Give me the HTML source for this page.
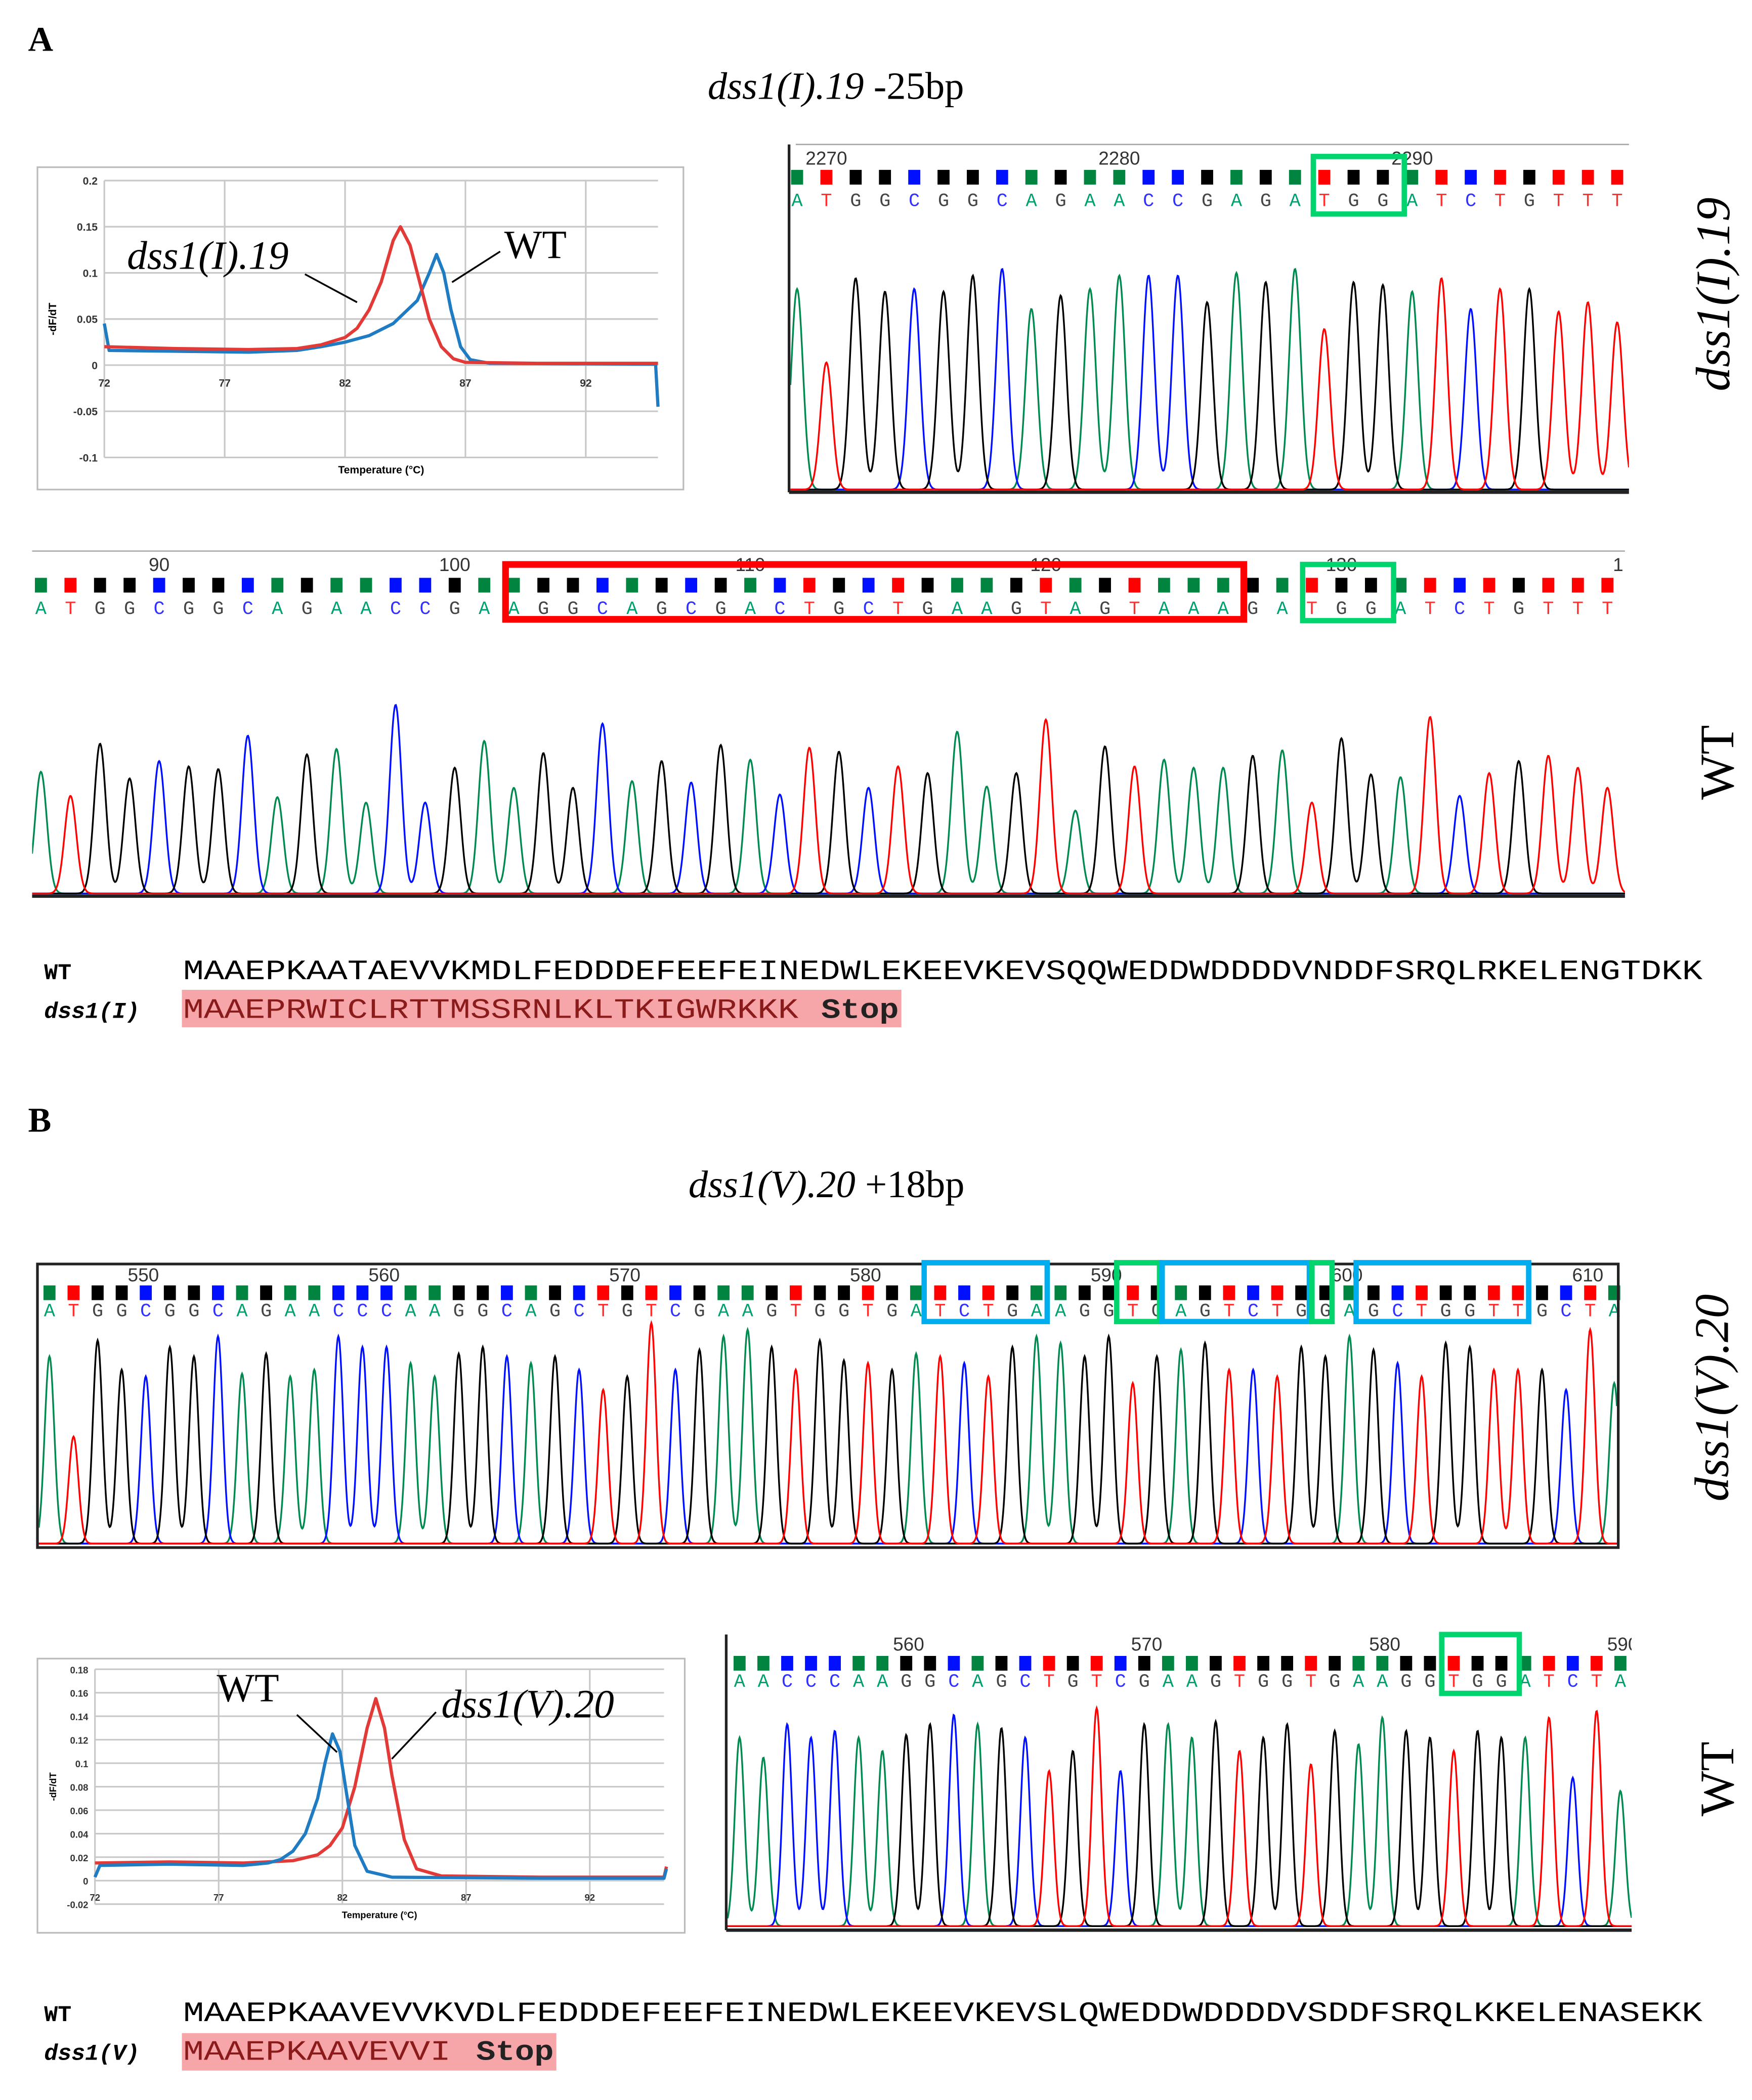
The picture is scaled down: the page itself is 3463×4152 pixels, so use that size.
<!DOCTYPE html>
<html><head><meta charset="utf-8">
<style>
html,body{margin:0;padding:0;background:#fff;}
svg{display:block;}
.serif{font-family:"Liberation Serif",serif;}
.mono{font-family:"Liberation Mono",monospace;}
.sans{font-family:"Liberation Sans",sans-serif;}
</style></head>
<body>
<svg id="fig" xmlns="http://www.w3.org/2000/svg" width="3463" height="4152" viewBox="0 0 1310 1570" preserveAspectRatio="none">
<rect x="0" y="0" width="1310" height="1570" fill="#fff"/>
<!-- Panel A -->
<text x="21" y="38" class="serif" font-size="26" font-weight="bold">A</text>
<text x="625" y="74" class="serif" font-size="29" text-anchor="middle"><tspan font-style="italic">dss1(I).19</tspan> -25bp</text>
<g id="meltA"></g>
<g id="chrom1"></g>
<g id="chrom2"></g>
<text transform="translate(1293,220) rotate(-90)" class="serif" font-size="36" font-style="italic" text-anchor="middle">dss1(I).19</text>
<text transform="translate(1296,570) rotate(-90)" class="serif" font-size="36" text-anchor="middle">WT</text>

<rect x="136" y="740" width="538" height="28" fill="#f6a5a9"/>
<text x="33" y="732" class="mono" font-size="17" font-weight="bold">WT</text>
<text x="137" y="732" class="mono" font-size="21" textLength="1136" lengthAdjust="spacingAndGlyphs">MAAEPKAATAEVVKMDLFEDDDEFEEFEINEDWLEKEEVKEVSQQWEDDWDDDDVNDDFSRQLRKELENGTDKK</text>
<text x="33" y="761" class="mono" font-size="17" font-weight="bold" font-style="italic">dss1(I)</text>
<text x="137" y="761" class="mono" font-size="21" fill="#8b1a1a"><tspan textLength="460" lengthAdjust="spacingAndGlyphs">MAAEPRWICLRTTMSSRNLKLTKIGWRKKK</tspan><tspan x="614" font-weight="bold" fill="#222" textLength="58" lengthAdjust="spacingAndGlyphs">Stop</tspan></text>

<!-- Panel B -->
<text x="21" y="846" class="serif" font-size="26" font-weight="bold">B</text>
<text x="618" y="895" class="serif" font-size="29" text-anchor="middle"><tspan font-style="italic">dss1(V).20</tspan> +18bp</text>
<g id="chrom3"></g>
<g id="meltB"></g>
<g id="chrom4"></g>
<text transform="translate(1292,1045) rotate(-90)" class="serif" font-size="36" font-style="italic" text-anchor="middle">dss1(V).20</text>
<text transform="translate(1296,1330) rotate(-90)" class="serif" font-size="36" text-anchor="middle">WT</text>

<rect x="136" y="1520" width="280" height="28" fill="#f6a5a9"/>
<text x="33" y="1511" class="mono" font-size="17" font-weight="bold">WT</text>
<text x="137" y="1511" class="mono" font-size="21" textLength="1136" lengthAdjust="spacingAndGlyphs">MAAEPKAAVEVVKVDLFEDDDEFEEFEINEDWLEKEEVKEVSLQWEDDWDDDDVSDDFSRQLKKELENASEKK</text>
<text x="33" y="1540" class="mono" font-size="17" font-weight="bold" font-style="italic">dss1(V)</text>
<text x="137" y="1540" class="mono" font-size="21" fill="#8b1a1a"><tspan textLength="200" lengthAdjust="spacingAndGlyphs">MAAEPKAAVEVVI</tspan><tspan x="356" font-weight="bold" fill="#222" textLength="58" lengthAdjust="spacingAndGlyphs">Stop</tspan></text>
</svg>
<script>
// ---------- DATA ----------
const c1Bases = "ATGGCGGCAGAACCGAGATGGATCTGTTT".split("");
const c1Amp = [150,95,158,148,150,148,160,165,135,145,150,160,160,160,140,162,155,165,120,155,153,148,158,135,150,150,133,140,125];
const c1Ticks = [2270,2280,2290];

const c2Bases = "ATGGCGGCAGAACCGAAGGCAGCGACTGCTGAAGTAGTAAAGATGGATCTGTTT".split("");
const c2Amp = [91,73,112,86,99,95,93,118,72,104,108,68,141,68,94,114,79,105,79,127,84,99,83,111,100,74,109,106,79,95,90,121,80,90,130,62,110,95,100,94,94,103,107,68,116,89,87,132,73,90,99,103,94,79];
const c2Ticks = [90,100,110,120,130];

const c3Bases = "ATGGCGGCAGAACCCAAGGCAGCTGTCGAAGTGGTGATCTGAAGGTGAGTCTGGAGCTGGTTGCTA".split("");
const c3Amp = [140,80,152,130,125,147,140,155,127,142,125,130,155,147,147,135,125,142,147,140,135,140,130,115,125,165,130,145,155,160,147,130,152,137,135,130,142,140,135,125,147,155,150,140,155,120,140,145,150,130,130,125,147,140,155,145,135,125,150,147,130,130,130,115,160,120];
const c3Ticks = [550,560,570,580,590,600,610];

const c4Bases = "AACCCAAGGCAGCTGTCGAAGTGGTGAAGGTGGATCTA".split("");
const c4Amp = [141,126,151,141,146,141,131,143,151,158,151,148,141,116,131,163,116,151,151,141,153,131,141,151,121,146,136,156,146,141,131,146,141,141,156,111,161,101];
const c4Ticks = [560,570,580,590];

const meltATicksX = [72,77,82,87,92];
const meltATicksY = [-0.1,-0.05,0,0.05,0.1,0.15,0.2];
const meltARedT = [72,75,78,80,81,82,82.5,83,83.5,84,84.3,84.7,85,85.5,86,86.5,87,90,95];
const meltARedV = [0.02,0.018,0.017,0.018,0.022,0.03,0.04,0.06,0.09,0.135,0.15,0.13,0.1,0.05,0.02,0.007,0.003,0.002,0.002];
const meltABlueT = [72,72.2,75,78,80,81,82,83,84,85,85.5,85.8,86.1,86.4,86.8,87.2,88,94.9,95];
const meltABlueV = [0.045,0.016,0.015,0.014,0.016,0.02,0.025,0.032,0.045,0.07,0.1,0.12,0.1,0.06,0.02,0.006,0.002,0.001,-0.045];

const meltBTicksX = [72,77,82,87,92];
const meltBTicksY = [-0.02,0,0.02,0.04,0.06,0.08,0.1,0.12,0.14,0.16,0.18];
const meltBBlueT = [72,72.2,75,78,79,79.5,80,80.5,81,81.3,81.6,81.9,82.2,82.5,83,84,90,95,95.1];
const meltBBlueV = [0.003,0.013,0.014,0.013,0.015,0.018,0.025,0.04,0.07,0.1,0.125,0.11,0.07,0.03,0.008,0.003,0.002,0.002,0.01];
const meltBRedT = [72,75,78,80,81,81.5,82,82.5,83,83.35,83.7,84,84.5,85,86,90,95,95.1];
const meltBRedV = [0.015,0.016,0.015,0.017,0.022,0.03,0.045,0.08,0.13,0.155,0.13,0.09,0.035,0.01,0.004,0.003,0.003,0.012];

// ---------- HELPERS ----------
const NS = "http://www.w3.org/2000/svg";
function mk(parent, tag, attrs){
  const e = document.createElementNS(NS, tag);
  for (const k in attrs) e.setAttribute(k, attrs[k]);
  parent.appendChild(e);
  return e;
}
const sqCol = {A:"#00843f", C:"#0010ff", G:"#000000", T:"#ff0000"};
const txCol = {A:"#00a070", C:"#3030ff", G:"#444444", T:"#ff3030"};

function chrom(id, bases, amp, ticks, cfg){
  const g = document.getElementById(id);
  const xOf = i => cfg.x0 + i*cfg.dx;
  const tickX = n => cfg.x0 + (n - cfg.start)*cfg.dx;
  const cid = id + "-clip";
  const cp = mk(g, "clipPath", {id:cid});
  mk(cp, "rect", {x:cfg.left, y:cfg.top, width:cfg.right-cfg.left, height:cfg.base-cfg.top+2});
  ticks.forEach(n => {
    const t = mk(g, "text", {x:tickX(n), y:cfg.tickY, "font-size":14, fill:"#333", "text-anchor":"middle", "class":"sans", "clip-path":"url(#"+cid+")"});
    
    
    t.textContent = n;
  });
  bases.forEach((b,i) => {
    const r = mk(g, "rect", {x:xOf(i)-4.5, y:cfg.sqY, width:9, height:11, fill:sqCol[b]});
    
    
    const t = mk(g, "text", {x:xOf(i), y:cfg.letY, "font-size":14, fill:txCol[b], "text-anchor":"middle", "class":"mono"});
    
    
    t.textContent = b;
  });
  const sig = cfg.dx*0.2;
  ["A","C","G","T"].forEach(ch => {
    let d = "";
    for (let x = cfg.left; x <= cfg.right; x += 0.5){
      let v = 0;
      bases.forEach((b,i) => { if (b===ch){ const dd = x - xOf(i); if (Math.abs(dd) < sig*5) v += amp[i]*Math.exp(-dd*dd/(2*sig*sig)); }});
      d += (d ? "L" : "M") + x.toFixed(1) + " " + (cfg.base - 1 - v).toFixed(1);
    }
    const p = mk(g, "path", {d:d, fill:"none", stroke:sqCol[ch]==="#00843f"?"#008a50":sqCol[ch], "stroke-width":1.3, "clip-path":"url(#"+cid+")"});
    
    
  });
}

function melt(id, cfg, ticksX, ticksY, series){
  const g = document.getElementById(id);
  const X = t => cfg.px0 + (t - 72)*cfg.kx;
  const Y = v => cfg.py0 - v*cfg.ky;
  const fr = mk(g, "rect", {x:cfg.bx, y:cfg.by, width:cfg.bw, height:cfg.bh, fill:"#fff", stroke:"#bbb", "stroke-width":1.2});
  
  
  ticksY.forEach(v => {
    const l = mk(g, "line", {x1:X(72), x2:X(95), y1:Y(v), y2:Y(v), stroke:"#c8c8c8", "stroke-width":1.2});
    
    
    const t = mk(g, "text", {x:X(72)-5, y:Y(v)+3, "font-size":cfg.fs, "text-anchor":"end", "class":"sans", "font-weight":"bold", fill:"#333"});
    
    
    t.textContent = v;
  });
  ticksX.forEach(v => {
    const l = mk(g, "line", {x1:X(v), x2:X(v), y1:Y(cfg.ymax), y2:Y(cfg.ymin), stroke:"#c8c8c8", "stroke-width":1.2});
    
    
    const t = mk(g, "text", {x:X(v), y:Y(0)+cfg.fs+8, "font-size":cfg.fs, "text-anchor":"middle", "class":"sans", "font-weight":"bold", fill:"#333"});
    
    
    t.textContent = v;
  });
  const yt = mk(g, "text", {transform:"translate("+(cfg.bx+14)+","+((Y(cfg.ymax)+Y(cfg.ymin))/2)+") rotate(-90)", "font-size":cfg.fs, "text-anchor":"middle", "class":"sans", "font-weight":"bold"});
  
  
  yt.textContent = "-dF/dT";
  const xt = mk(g, "text", {x:(X(72)+X(95))/2, y:cfg.xtY, "font-size":cfg.fs, "text-anchor":"middle", "class":"sans", "font-weight":"bold"});
  
  
  xt.textContent = "Temperature (°C)";
  series.forEach(s => {
    const pts = s.t.map((t,i) => X(t).toFixed(1) + "," + Y(s.v[i]).toFixed(1)).join(" ");
    const pl = mk(g, "polyline", {points:pts, fill:"none", stroke:s.c, "stroke-width":2.4, "stroke-linejoin":"round"});
    
    
  });
  cfg.labels.forEach(L => {
    const t = mk(g, "text", {x:L.x, y:L.y, "font-size":30, "class":"serif", "font-style":L.it?"italic":"normal"});
    
    
    t.textContent = L.txt;
    const ln = mk(g, "line", {x1:L.l[0], y1:L.l[1], x2:L.l[2], y2:L.l[3], stroke:"#000", "stroke-width":1.3});
    
    
  });
}

// ---------- BUILD ----------
melt("meltA", {bx:28,by:125,bw:483,bh:241, px0:78, kx:18.0, py0:273, ky:690, ymax:0.2, ymin:-0.1, fs:8, xtY:354,
  labels:[{x:95,y:201,txt:"dss1(I).19",it:true,name:"series-label-dss1-i",l:[228,205,267,226]},
          {x:377,y:193,txt:"WT",it:false,name:"series-label-wt",l:[374,188,338,211]}]},
  meltATicksX, meltATicksY,
  [{t:meltABlueT, v:meltABlueV, c:"#1f7bc2", name:"wt-melt-curve"},{t:meltARedT, v:meltARedV, c:"#e23a36", name:"dss1-i-melt-curve"}]);

melt("meltB", {bx:28,by:1240,bw:484,bh:205, px0:71, kx:18.5, py0:1406, ky:878, ymax:0.18, ymin:-0.02, fs:7, xtY:1434,
  labels:[{x:162,y:1272,txt:"WT",it:false,name:"series-label-wt",l:[222,1282,252,1310]},
          {x:330,y:1284,txt:"dss1(V).20",it:true,name:"series-label-dss1-v",l:[326,1280,293,1315]}]},
  meltBTicksX, meltBTicksY,
  [{t:meltBRedT, v:meltBRedV, c:"#e23a36", name:"dss1-v-melt-curve"},{t:meltBBlueT, v:meltBBlueV, c:"#1f7bc2", name:"wt-melt-curve"}]);

chrom("chrom1", c1Bases, c1Amp, c1Ticks, {x0:596, dx:21.9, start:2269, left:591, right:1218, top:108, base:367, tickY:123, sqY:127, letY:154});
chrom("chrom2", c2Bases, c2Amp, c2Ticks, {x0:30.6, dx:22.1, start:86, left:24, right:1215, top:412, base:669, tickY:427, sqY:432, letY:459});
chrom("chrom3", c3Bases, c3Amp, c3Ticks, {x0:37, dx:18, start:546.1, left:29, right:1209, top:946, base:1155, tickY:958, sqY:961, letY:984});
chrom("chrom4", c4Bases, c4Amp, c4Ticks, {x0:553, dx:17.8, start:552.9, left:544, right:1220, top:1222, base:1441, tickY:1234, sqY:1238, letY:1261});

// frames and highlight boxes
const fig = document.getElementById("fig");
function line(x1,y1,x2,y2,c,w,name){ const l = mk(fig,"line",{x1:x1,y1:y1,x2:x2,y2:y2,stroke:c,"stroke-width":w});
  
   }
function box(x,y,w,h,c,sw,name){ const r = mk(fig,"rect",{x:x,y:y,width:w,height:h,fill:"none",stroke:c,"stroke-width":sw});
  
   }
line(590,108,590,368,"#222",2,"chrom1-left-axis");
line(590,368,1218,368,"#222",2.5,"chrom1-baseline");
line(595,108,1218,108,"#aaa",1,"chrom1-top-border");
line(24,670,1215,670,"#222",2.5,"chrom2-baseline");
line(24,412,1215,412,"#aaa",1,"chrom2-top-border");
box(28,945,1182,212,"#222",2,"chrom3-frame");
line(543,1222,543,1443,"#222",2,"chrom4-left-axis");
line(543,1443,1220,1443,"#222",2.5,"chrom4-baseline");
const t140 = mk(fig,"text",{x:1206,y:427,"font-size":14,fill:"#333","class":"sans"});


t140.textContent = "1";
box(982,117,68,43,"#00d46e",4,"chrom1-tgg-box");
box(378,422,552,41,"#ff0000",5,"chrom2-deletion-box");
box(974,422,68,42,"#00d46e",4,"chrom2-tgg-box");
box(691,944,92,44,"#00aeef",4,"chrom3-insert-box-1");
box(835,944,32,44,"#00d46e",4,"chrom3-tg-box");
box(869,944,110,44,"#00aeef",4,"chrom3-insert-box-2");
box(981,944,15,44,"#00d46e",4,"chrom3-g-box");
box(1014,944,129,44,"#00aeef",4,"chrom3-insert-box-3");
box(1078,1222,58,44,"#00d46e",4,"chrom4-tgg-box");
</script>
</body></html>
